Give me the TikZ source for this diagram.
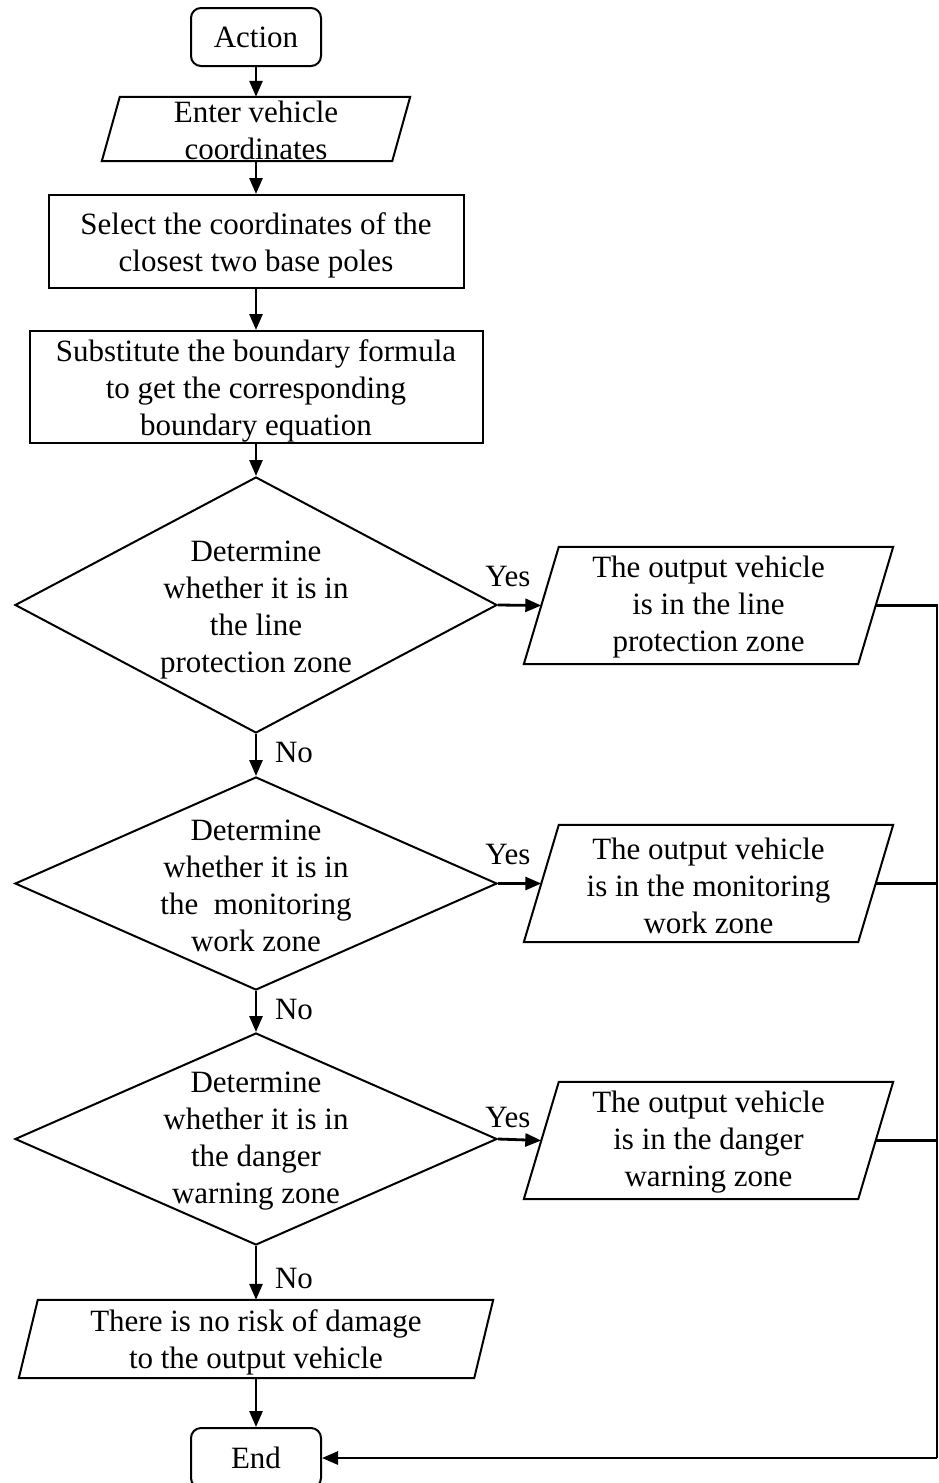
\documentclass[tikz,border=0pt]{standalone}
\usepackage{fontspec}
\setmainfont{Liberation Serif}
\usetikzlibrary{shapes.geometric,arrows.meta}
\begin{document}
\begin{tikzpicture}[x=1pt,y=-1pt,
  every node/.style={font=\fontsize{31}{37}\selectfont},
  shape line/.style={draw, line width=2pt, inner sep=0pt},
  terminal/.style={shape line, rectangle, rounded corners=10pt, minimum width=130pt, minimum height=58pt},
  process/.style={shape line, rectangle},
  io/.style={rectangle, inner sep=0pt},
  io edge/.style={line width=2pt, line join=miter},
  decision/.style={shape line, diamond, minimum width=482pt},
  inner text/.style={align=center, yshift=-2pt},
  flow/.style={line width=2.8pt, -{Triangle[length=16pt,width=13pt]}},
  link/.style={line width=2.8pt},
  tag/.style={inner sep=0pt}
]
\useasboundingbox (0,0) rectangle (938,1483);

% main column
\node[terminal] (start) at (256,37) {Action};
\node[io, minimum width=290pt, minimum height=64pt,
      label={[inner text, yshift=1pt]center:Enter vehicle\\coordinates}] (input) at (256,129) {};
\node[process, minimum width=415pt, minimum height=93pt,
      label={[inner text, yshift=-2pt]center:Select the coordinates of the\\closest two base poles}] (select) at (256,241.5) {};
\node[process, minimum width=453pt, minimum height=112pt,
      label={[inner text, yshift=-2pt]center:Substitute the boundary formula\\to get the corresponding\\boundary equation}] (subst) at (256,387) {};

\node[decision, minimum height=256pt,
      label={[inner text, yshift=-3pt]center:Determine\\whether it is in\\the line\\protection zone}] (d1) at (256,605) {};
\node[decision, minimum height=213pt,
      label={[inner text]center:Determine\\whether it is in\\the\ \ monitoring\\work zone}] (d2) at (256,883.5) {};
\node[decision, minimum height=212pt,
      label={[inner text]center:Determine\\whether it is in\\the danger\\warning zone}] (d3) at (256,1139) {};

\node[io, minimum width=455pt, minimum height=78pt,
      label={[inner text, yshift=-1pt]center:There is no risk of damage\\to the output vehicle}] (norisk) at (256,1339) {};
\node[terminal, minimum height=60pt] (finish) at (256,1458) {End};

% output column
\node[io, minimum width=334pt, minimum height=117pt,
      label={[inner text]center:The output vehicle\\is in the line\\protection zone}] (out1) at (708.5,605.5) {};
\node[io, minimum width=334pt, minimum height=117pt,
      label={[inner text]center:The output vehicle\\is in the monitoring\\work zone}] (out2) at (708.5,883.5) {};
\node[io, minimum width=334pt, minimum height=117pt,
      label={[inner text]center:The output vehicle\\is in the danger\\warning zone}] (out3) at (708.5,1140.5) {};

% parallelogram outlines of the input/output boxes (top edge shifted right)
\foreach \n/\s in {input/18, out1/35, out2/35, out3/35, norisk/19}
  \draw[io edge] ([xshift=\s*0.5pt]\n.north west) -- ([xshift=\s*0.5pt]\n.north east)
    -- ([xshift=-\s*0.5pt]\n.south east) -- ([xshift=-\s*0.5pt]\n.south west) -- cycle;

% branch labels
\node[tag] (yes1) at (508,576) {Yes};
\node[tag] (yes2) at (508,854) {Yes};
\node[tag] (yes3) at (508,1117) {Yes};
\node[tag] (no1) at (294,752) {No};
\node[tag] (no2) at (294,1009) {No};
\node[tag] (no3) at (294,1278) {No};

% main flow
\draw[flow] (start) -- (input);
\draw[flow] (input) -- (select);
\draw[flow] (select) -- (subst);
\draw[flow] (subst) -- (d1);
\draw[flow] (d1.south) -- (d2.north);
\draw[flow] (d2.south) -- (d3.north);
\draw[flow] (d3.south) -- (norisk.north);
\draw[flow] (norisk.south) -- (finish.north);

% yes branches
\draw[flow] (d1.east) -- (out1.west);
\draw[flow] (d2.east) -- (out2.west);
\draw[flow] (d3.east) -- (out3.west);

% return line to End
\coordinate (r1) at (937,605.5);
\coordinate (r2) at (937,883.5);
\coordinate (r3) at (937,1140.5);
\coordinate (rb) at (937,1458);
\draw[link] (out1.east) -- (r1) -- (rb);
\draw[link] (out2.east) -- (r2);
\draw[link] (out3.east) -- (r3);
\draw[flow] (rb) -- (finish.east);
\end{tikzpicture}
\end{document}
